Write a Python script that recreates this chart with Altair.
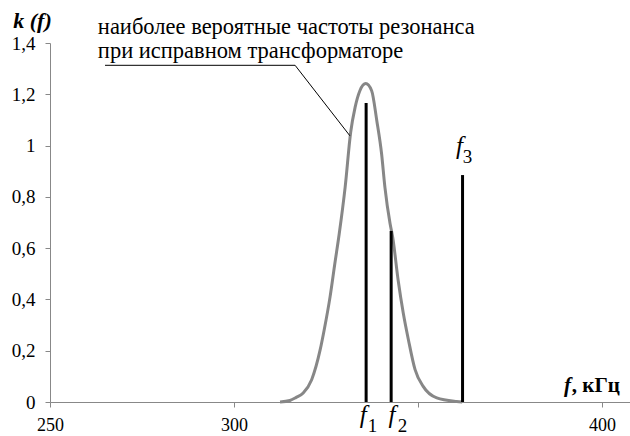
import altair as alt
import pandas as pd

# curve
curve_f = [312.5, 315.2, 316.8, 318.8, 321.1, 323.4, 324.5, 326.1, 327.4, 328.6, 330.2, 331.7,
           332.9, 334.2, 335.8, 337.4, 338.8, 340.1, 341.0, 342.4, 343.1, 344.6, 346.0,
           347.4, 349.2, 351.4, 355.1, 360.5, 362.0]
curve_k = [0.0, 0.006, 0.017, 0.035, 0.087, 0.203, 0.281, 0.41, 0.54, 0.657, 0.838, 1.052,
           1.149, 1.214, 1.242, 1.214, 1.097, 0.968, 0.838, 0.696, 0.644, 0.475, 0.346,
           0.242, 0.126, 0.061, 0.016, 0.002, 0.0]

# resonance lines
line_names = ["1", "2", "3"]
line_f = [335.9, 342.7, 362.1]
line_k = [1.166, 0.667, 0.885]

# labels of the lower two lines (glyph centres, kHz)
low_names = ["1", "2"]
low_f_pos = [335.1, 342.9]
low_sub_pos = [337.6, 345.8]

# annotation
note_lines = ["наиболее вероятные частоты резонанса", "при исправном трансформаторе"]
note_x = [263.0, 263.0]
note_y = [1.4365, 1.343]
leader_x = [264.95, 316.6, 331.5]
leader_y = [1.313, 1.313, 1.038]

x_ticks = [250, 300, 350, 400]
y_ticks = [0, 0.2, 0.4, 0.6, 0.8, 1.0, 1.2, 1.4]

FONT = "Liberation Serif"
xs = alt.Scale(domain=[250, 407.6], nice=False, zero=False)
ys = alt.Scale(domain=[0, 1.4], nice=False)

curve_df = pd.DataFrame({"f": curve_f, "k": curve_k})
lines_df = pd.DataFrame({"name": line_names, "f": line_f, "k": line_k})
low_df = pd.DataFrame({"name": low_names, "fp": low_f_pos, "sp": low_sub_pos})
note_df = pd.DataFrame({"t": note_lines, "f": note_x, "k": note_y})
leader_df = pd.DataFrame({"f": leader_x, "k": leader_y, "o": [0, 1, 2]})

curve = alt.Chart(curve_df).mark_line(color="#878787", strokeWidth=3, interpolate="monotone").encode(
    x=alt.X("f:Q", scale=xs,
            axis=alt.Axis(values=x_ticks, title=None, grid=False, tickSize=5,
                          labelExpr="datum.value == 350 ? '' : datum.label",
                          labelFlush=False, labelOverlap=False,
                          labelPadding=9, domainColor="#888888", tickColor="#888888",
                          labelFont=FONT, labelFontSize=18, labelColor="black")),
    y=alt.Y("k:Q", scale=ys,
            axis=alt.Axis(values=y_ticks, title="k (f)", grid=False, tickSize=5,
                          labelExpr="replace(format(datum.value, '~g'), '.', ',')",
                          labelPadding=10, domainColor="#888888", tickColor="#888888",
                          labelFont=FONT, labelFontSize=19, labelColor="black",
                          labelFlush=False, labelOverlap=False,
                          titleAngle=0, titleX=-18, titleY=-16, titleAlign="center",
                          titleBaseline="alphabetic", titleFont=FONT, titleFontSize=22,
                          titleFontStyle="italic", titleFontWeight="bold", titleColor="black")),
)

rules = alt.Chart(lines_df).mark_rule(color="black", strokeWidth=3).encode(
    x=alt.X("f:Q", scale=xs), y=alt.Y("k:Q", scale=ys), y2=alt.datum(0)
)

leader = alt.Chart(leader_df).mark_line(color="black", strokeWidth=1).encode(
    x=alt.X("f:Q", scale=xs), y=alt.Y("k:Q", scale=ys), order="o:Q"
)

notes = alt.Chart(note_df).mark_text(align="left", baseline="alphabetic", font=FONT,
                                     fontSize=22.5, color="black").encode(
    x=alt.X("f:Q", scale=xs), y=alt.Y("k:Q", scale=ys), text="t:N"
)

high_df = lines_df[lines_df["name"] == "3"]

f_low = alt.Chart(low_df).mark_text(font=FONT, fontSize=25, fontStyle="italic",
                                    baseline="alphabetic", align="center", dy=21,
                                    color="black").encode(
    x=alt.X("fp:Q", scale=xs), y=alt.datum(0), text=alt.value("f"))
sub_low = alt.Chart(low_df).mark_text(font=FONT, fontSize=19, baseline="alphabetic",
                                      align="center", dy=30, color="black").encode(
    x=alt.X("sp:Q", scale=xs), y=alt.datum(0), text="name:N")

f_high = alt.Chart(high_df).mark_text(font=FONT, fontSize=25, fontStyle="italic",
                                      baseline="alphabetic", align="center", dx=-3, dy=-21,
                                      color="black").encode(
    x=alt.X("f:Q", scale=xs), y=alt.Y("k:Q", scale=ys), text=alt.value("f"))
sub_high = alt.Chart(high_df).mark_text(font=FONT, fontSize=19, baseline="alphabetic",
                                        align="center", dx=5, dy=-12, color="black").encode(
    x=alt.X("f:Q", scale=xs), y=alt.Y("k:Q", scale=ys), text="name:N")

xt_df = pd.DataFrame({"t": ["f", ", кГц"], "f": [389.7, 391.8], "k": [0.040, 0.040]})
xt_f = alt.Chart(xt_df.iloc[[0]]).mark_text(font=FONT, fontSize=21, fontStyle="italic",
                                            fontWeight="bold", align="left",
                                            baseline="alphabetic", color="black").encode(
    x=alt.X("f:Q", scale=xs), y=alt.Y("k:Q", scale=ys), text="t:N")
xt_u = alt.Chart(xt_df.iloc[[1]]).mark_text(font=FONT, fontSize=21, fontWeight="bold",
                                            align="left", baseline="alphabetic",
                                            color="black").encode(
    x=alt.X("f:Q", scale=xs), y=alt.Y("k:Q", scale=ys), text="t:N")

chart = alt.layer(curve, rules, leader, notes, f_low, sub_low, f_high, sub_high, xt_f, xt_u).properties(
    width=580, height=359,
    padding={"left": 50, "top": 43, "right": 0, "bottom": 34},
    autosize=alt.AutoSizeParams(type="none"),
    background="white",
).configure_view(stroke=None)

chart.save("out.html", embed_options={"renderer": "svg", "actions": False})
